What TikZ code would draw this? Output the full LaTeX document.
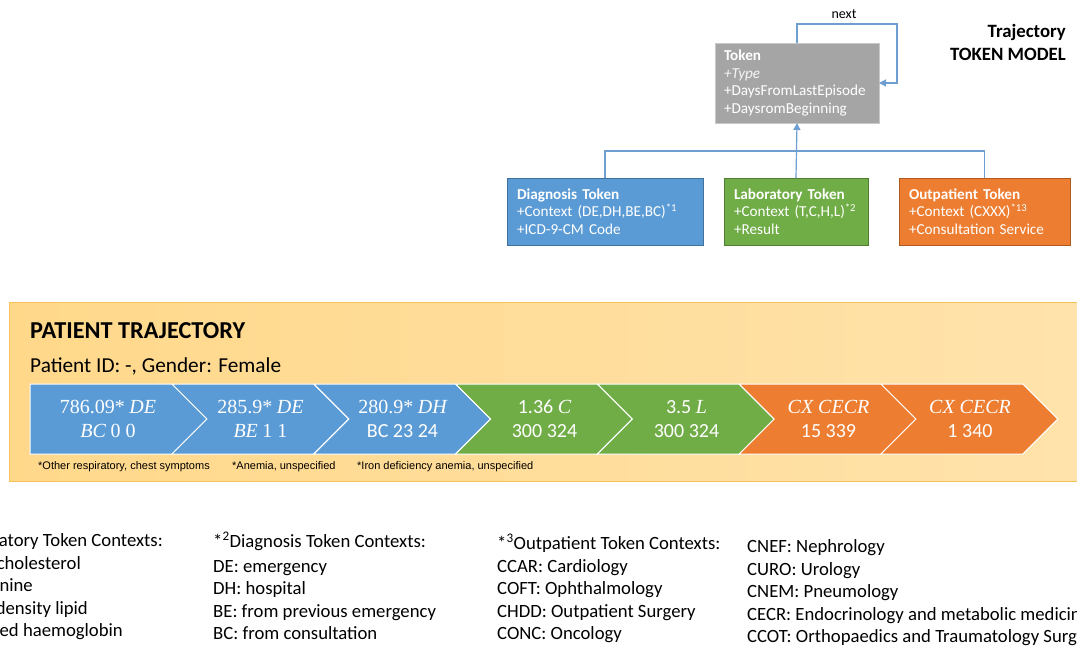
\documentclass[tikz,border=0pt]{standalone}
\usepackage{fontspec}
\setsansfont{Carlito}
\renewcommand\familydefault{\sfdefault}
\newfontfamily\arialf{Liberation Sans}
\newfontfamily\serifc{Liberation Serif}
\usetikzlibrary{arrows.meta}
\definecolor{cblue}{HTML}{5B9BD5}
\definecolor{cblueedge}{HTML}{41719C}
\definecolor{cgreen}{HTML}{70AD47}
\definecolor{cgreenedge}{HTML}{507E32}
\definecolor{corange}{HTML}{ED7D31}
\definecolor{corangeedge}{HTML}{AE5A21}
\definecolor{cgray}{HTML}{A5A5A5}
\definecolor{cgrayedge}{HTML}{C8C8C8}
\definecolor{cline}{HTML}{6E9FD0}
\definecolor{bandA}{HTML}{FFD88A}
\definecolor{bandB}{HTML}{FFE3AC}
\definecolor{bandedge}{HTML}{F5C35A}
\newcommand\mi[1]{{\serifc\itshape #1}}
\newcommand\mr[1]{{\serifc #1}}
\begin{document}
\begin{tikzpicture}[x=1pt,y=-1pt,
  umlbox/.style={draw, line width=0.6pt, anchor=north west, inner xsep=10pt, inner ysep=0pt,
    outer sep=0pt, align=left, font=\sffamily\fontsize{15.2}{17.6}\selectfont, text=white},
  conn/.style={draw=cline, line width=1.2pt},
  tip/.style={-{Triangle[length=7pt,width=7pt]}},
  chevtxt/.style={text=white, align=center, font=\fontsize{20}{24}\selectfont, inner sep=0pt},
  foot/.style={font=\arialf\fontsize{11}{12}\selectfont, anchor=west, inner sep=0pt},
  legend/.style={font=\sffamily\fontsize{18.7}{20}\selectfont, anchor=base west, inner sep=0pt},
  legendr/.style={font=\sffamily\fontsize{18.7}{20}\selectfont, anchor=base east, inner sep=0pt},
  title/.style={font=\sffamily\bfseries\fontsize{18.8}{23}\selectfont, align=right, inner sep=0pt}
]
\useasboundingbox (0,0) rectangle (1077,646);
\clip (0,0) rectangle (1077,646);
\fill[white] (0,0) rectangle (1077,646);

% ---------- token model ----------
\node[title, anchor=north east] (ttl) at (1066,24) {Trajectory\\TOKEN MODEL};

\node[umlbox, fill=cgray, draw=cgrayedge, text width=146pt, inner xsep=9pt, minimum height=80pt] (tok) at (715,43)
  {\textbf{Token}\\{\color{white!92!gray}\textit{+Type}}\\+DaysFromLastEpisode\\+DaysromBeginning};

\node[umlbox, fill=cblue, draw=cblueedge, text width=176pt, minimum height=67pt] (diag) at (507,178)
  {\textbf{Diagnosis Token}\\+Context (DE,DH,BE,BC)\textsuperscript{*1}\\+ICD-9-CM Code};
\node[umlbox, fill=cgreen, draw=cgreenedge, text width=124pt, minimum height=67pt] (lab) at (724,178)
  {\textbf{Laboratory Token}\\+Context (T,C,H,L)\textsuperscript{*2}\\+Result};
\node[umlbox, fill=corange, draw=corangeedge, text width=151pt, minimum height=67pt] (outp) at (899,178)
  {\textbf{Outpatient Token}\\+Context (CXXX)\textsuperscript{*13}\\+Consultation Service};

\coordinate (bus) at (0,151);
\coordinate (loopc) at (897,24);
\draw[conn] (diag.north) -- (diag.north |- bus) -- (outp.north |- bus) -- (outp.north);
\draw[conn, tip] (lab.north) -- (tok.south);
\draw[conn, tip] (tok.north) |- (loopc) |- (tok.east);
\node[font=\sffamily\fontsize{14}{16}\selectfont, inner sep=0pt] (nxt) at (844,14) {next};

% ---------- patient trajectory band ----------
\draw[draw=bandedge, line width=0.8pt, left color=bandA, right color=bandB] (9.5,302) rectangle (1090,481);
\node[font=\sffamily\bfseries\fontsize{24.3}{26}\selectfont, anchor=west, inner sep=0pt] (pt) at (30,331) {PATIENT TRAJECTORY};
\node[font=\sffamily\fontsize{21.3}{24}\selectfont, anchor=west, inner sep=0pt] (pid) at (30,366) {Patient ID: -, Gender: Female};

% chevrons
\fill[cblue, draw=white, line width=1pt] (30,384) -- (172,384) -- (207,419) -- (172,454) -- (30,454) -- cycle;
\foreach \i/\c in {2/cblue,3/cblue,4/cgreen,5/cgreen,6/corange,7/corange}{
  \pgfmathsetmacro\R{172+(\i-1)*141.8}
  \pgfmathsetmacro\L{172+(\i-2)*141.8}
  \fill[\c, draw=white, line width=1pt] (\L,384) -- (\R,384) -- ({\R+35},419) -- (\R,454) -- (\L,454) -- ({\L+35},419) -- cycle;
}
\node[chevtxt] (c1) at (108,419) {\mr{786.09*}\ \mi{DE}\\\mi{BC}\ \mr{0 0}};
\node[chevtxt] (c2) at (260.5,419) {\mr{285.9*}\ \mi{DE}\\\mi{BE}\ \mr{1 1}};
\node[chevtxt] (c3) at (402.5,419) {\mr{280.9*}\ \mi{DH}\\BC 23 24};
\node[chevtxt] (c4) at (544.5,419) {1.36 \mi{C}\\300 324};
\node[chevtxt] (c5) at (686.5,419) {3.5 \mi{L}\\300 324};
\node[chevtxt] (c6) at (828.5,419) {\mi{CX CECR}\\15 339};
\node[chevtxt] (c7) at (970,419) {\mi{CX CECR}\\1 340};

\node[foot] (f1) at (38,467) {*Other respiratory, chest symptoms};
\node[foot] (f2) at (232,467) {*Anemia, unspecified};
\node[foot] (f3) at (357,467) {*Iron deficiency anemia, unspecified};

% ---------- legends (cut at the picture's edges, as in the reference) ----------
\node[legendr] (l10) at (163,546) {atory Token Contexts:};
\node[legendr] (l11) at (81,569) {cholesterol};
\node[legendr] (l12) at (33,591.5) {nine};
\node[legendr] (l13) at (88,614) {density lipid};
\node[legendr] (l14) at (123,636.5) {ted haemoglobin};

\node[legend] (l20) at (213,547) {*\textsuperscript{2}Diagnosis Token Contexts:};
\node[legend] (l21) at (213,572) {DE: emergency};
\node[legend] (l22) at (213,594.5) {DH: hospital};
\node[legend] (l23) at (213,617) {BE: from previous emergency};
\node[legend] (l24) at (213,639.5) {BC: from consultation};

\node[legend] (l30) at (497,549) {*\textsuperscript{3}Outpatient Token Contexts:};
\node[legend] (l31) at (497,572) {CCAR: Cardiology};
\node[legend] (l32) at (497,594.5) {COFT: Ophthalmology};
\node[legend] (l33) at (497,617) {CHDD: Outpatient Surgery};
\node[legend] (l34) at (497,639.5) {CONC: Oncology};

\node[legend] (l40) at (747,552) {CNEF: Nephrology};
\node[legend] (l41) at (747,575) {CURO: Urology};
\node[legend] (l42) at (747,597.5) {CNEM: Pneumology};
\node[legend] (l43) at (747,620) {CECR: Endocrinology and metabolic medicine};
\node[legend] (l44) at (747,642.5) {CCOT: Orthopaedics and Traumatology Surgery};
\end{tikzpicture}
\end{document}
